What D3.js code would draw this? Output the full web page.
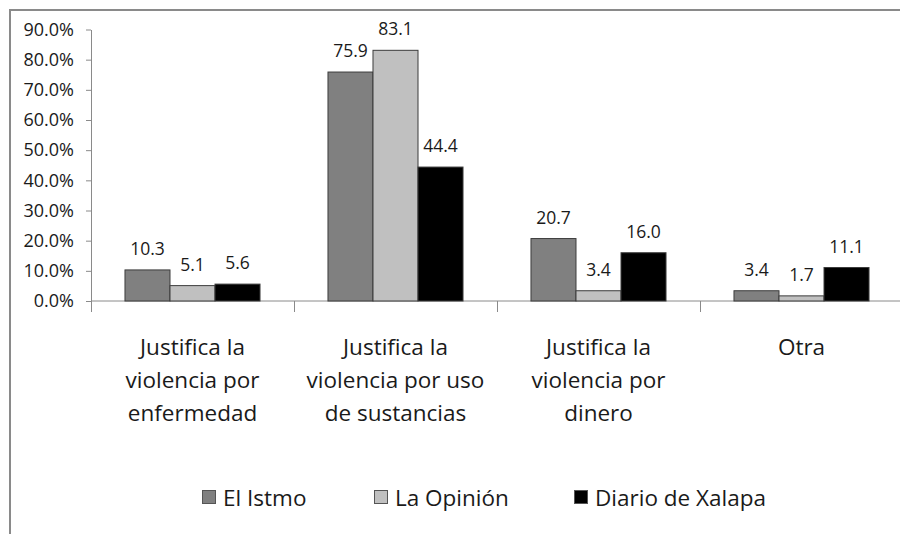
<!DOCTYPE html>
<html>
<head>
<meta charset="utf-8">
<script src="https://cdn.jsdelivr.net/npm/d3@7"></script>
<style>
  body { margin: 0; background: #fff; }
  svg { display: block; font-family: "Open Sans", sans-serif; }
</style>
</head>
<body>
<div id="chart"></div>
<script>
// data
var categories = ["enfermedad", "sustancias", "dinero", "otra"];
var categoryLines = [
  ["Justifica la", "violencia por", "enfermedad"],
  ["Justifica la", "violencia por uso", "de sustancias"],
  ["Justifica la", "violencia por", "dinero"],
  ["Otra"]
];
var series = ["El Istmo", "La Opinión", "Diario de Xalapa"];
var elIstmo = [10.3, 75.9, 20.7, 3.4];
var laOpinion = [5.1, 83.1, 3.4, 1.7];
var diarioXalapa = [5.6, 44.4, 16.0, 11.1];
var yTicks = [0, 10, 20, 30, 40, 50, 60, 70, 80, 90];
var seriesColors = ["#808080", "#c0c0c0", "#000000"];

var values = [elIstmo, laOpinion, diarioXalapa];

var width = 900, height = 534;

var svg = d3
  .select("#chart")
  .append("svg")
  .attr("width", width)
  .attr("height", height);

// outer frame (cropped on the right and bottom)
svg
  .append("path")
  .attr("d", "M10," + height + " L10,10 L" + width + ",10")
  .attr("fill", "none")
  .attr("stroke", "#8a8a8a")
  .attr("stroke-width", 2);

// scales
var x0 = d3.scaleBand().domain(categories).range([91, 903]).padding(0);
var x1 = d3
  .scaleBand()
  .domain(series)
  .range([0, x0.bandwidth()])
  .paddingInner(0)
  .paddingOuter(0.755);
var y = d3.scaleLinear().domain([0, 90]).range([301, 29.5]);

// y axis
var yaxis = svg
  .append("g")
  .attr("class", "y axis")
  .attr("transform", "translate(91,0)")
  .call(
    d3
      .axisLeft(y)
      .tickValues(yTicks)
      .tickSizeInner(5)
      .tickSizeOuter(0)
      .tickPadding(12)
      .tickFormat(function (d) {
        return d.toFixed(1) + "%";
      })
  );
yaxis.select(".domain").attr("stroke", "#8a8a8a");
yaxis.selectAll(".tick line").attr("stroke", "#8a8a8a");
yaxis
  .selectAll(".tick text")
  .style("font-family", "Open Sans, sans-serif")
  .style("font-size", "18px")
  .attr("fill", "#1a1a1a");

// x axis baseline and category ticks
var xaxis = svg.append("g").attr("class", "x axis");
xaxis
  .append("line")
  .attr("x1", 91)
  .attr("x2", width)
  .attr("y1", y(0))
  .attr("y2", y(0))
  .attr("stroke", "#8a8a8a");
xaxis
  .selectAll(".cat-tick")
  .data(categories)
  .enter()
  .append("line")
  .attr("class", "cat-tick")
  .attr("x1", function (d) {
    return x0(d) + 0.5;
  })
  .attr("x2", function (d) {
    return x0(d) + 0.5;
  })
  .attr("y1", y(0))
  .attr("y2", y(0) + 11)
  .attr("stroke", "#8a8a8a");

// bars
var groups = svg
  .selectAll(".group")
  .data(categories)
  .enter()
  .append("g")
  .attr("class", "group")
  .attr("transform", function (d) {
    return "translate(" + x0(d) + ",0)";
  });

groups
  .selectAll("rect")
  .data(function (d, i) {
    return series.map(function (s, j) {
      return { series: s, value: values[j][i], idx: j };
    });
  })
  .enter()
  .append("rect")
  .attr("x", function (d) {
    return x1(d.series);
  })
  .attr("y", function (d) {
    return y(d.value);
  })
  .attr("width", x1.bandwidth())
  .attr("height", function (d) {
    return y(0) - y(d.value);
  })
  .attr("fill", function (d) {
    return seriesColors[d.idx];
  })
  .attr("stroke", "#3c3c3c")
  .attr("stroke-width", 1);

// value labels
groups
  .selectAll(".val")
  .data(function (d, i) {
    return series.map(function (s, j) {
      return { series: s, value: values[j][i] };
    });
  })
  .enter()
  .append("text")
  .attr("class", "val")
  .attr("x", function (d) {
    return x1(d.series) + x1.bandwidth() / 2;
  })
  .attr("y", function (d) {
    return y(d.value) - 15;
  })
  .attr("text-anchor", "middle")
  .style("font-size", "17.5px")
  .attr("fill", "#1a1a1a")
  .text(function (d) {
    return d.value.toFixed(1);
  });

// category labels
svg
  .selectAll(".cat-label")
  .data(categories)
  .enter()
  .append("text")
  .attr("class", "cat-label")
  .attr("text-anchor", "middle")
  .style("font-size", "22.5px")
  .attr("fill", "#1a1a1a")
  .each(function (d, i) {
    var t = d3.select(this);
    categoryLines[i].forEach(function (line, k) {
      t.append("tspan")
        .attr("x", x0(d) + x0.bandwidth() / 2)
        .attr("y", 355 + k * 33)
        .text(line);
    });
  });

// legend
var legendX = [202, 374, 574];
var legend = svg
  .selectAll(".legend")
  .data(series)
  .enter()
  .append("g")
  .attr("class", "legend")
  .attr("transform", function (d, i) {
    return "translate(" + legendX[i] + ",490)";
  });
legend
  .append("rect")
  .attr("x", 0.5)
  .attr("y", 0.5)
  .attr("width", 13)
  .attr("height", 13)
  .attr("fill", function (d, i) {
    return seriesColors[i];
  })
  .attr("stroke", "#555");
legend
  .append("text")
  .attr("x", 21)
  .attr("y", 16)
  .style("font-size", "22.5px")
  .attr("fill", "#1a1a1a")
  .text(function (d) {
    return d;
  });
</script>
</body>
</html>
